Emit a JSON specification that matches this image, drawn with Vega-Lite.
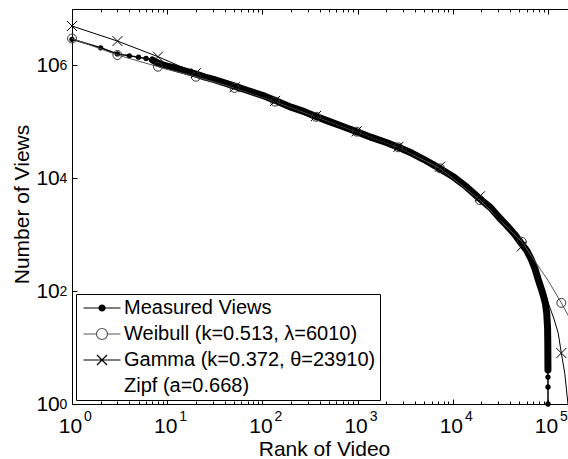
{
  "$schema": "https://vega.github.io/schema/vega-lite/v6.json",
  "width": 496,
  "height": 395,
  "autosize": {"type": "none"},
  "padding": {"left": 72, "top": 9, "right": 0, "bottom": 55},
  "background": "white",
  "view": {"stroke": null},
  "config": {
    "font": "Liberation Sans",
    "axis": {
      "grid": false,
      "domainColor": "black",
      "domainWidth": 1,
      "tickColor": "black",
      "tickWidth": 1,
      "labelColor": "black",
      "titleColor": "black",
      "labelFont": "Liberation Sans",
      "titleFont": "Liberation Sans",
      "labelFlush": false,
      "labelOverlap": false
    }
  },
  "datasets": {
    "measured": [
      {"rank": 1, "views": 2900000},
      {"rank": 2, "views": 2050000},
      {"rank": 3, "views": 1600000},
      {"rank": 4, "views": 1480000},
      {"rank": 5, "views": 1400000},
      {"rank": 6, "views": 1330000},
      {"rank": 7, "views": 1250000},
      {"rank": 8, "views": 1100000},
      {"rank": 9, "views": 1020000},
      {"rank": 10, "views": 970000},
      {"rank": 12, "views": 900000},
      {"rank": 15, "views": 810000},
      {"rank": 20, "views": 700000},
      {"rank": 25, "views": 620000},
      {"rank": 30, "views": 570000},
      {"rank": 40, "views": 490000},
      {"rank": 51, "views": 430000},
      {"rank": 70, "views": 360000},
      {"rank": 100, "views": 295000},
      {"rank": 136, "views": 240000},
      {"rank": 200, "views": 182000},
      {"rank": 280, "views": 150000},
      {"rank": 366, "views": 125000},
      {"rank": 500, "views": 102000},
      {"rank": 700, "views": 83000},
      {"rank": 977, "views": 67000},
      {"rank": 1400, "views": 53000},
      {"rank": 2000, "views": 43000},
      {"rank": 2680, "views": 35500},
      {"rank": 3700, "views": 28000},
      {"rank": 5000, "views": 21500},
      {"rank": 7240, "views": 15000},
      {"rank": 10000, "views": 10800},
      {"rank": 14000, "views": 7000},
      {"rank": 19000, "views": 4400},
      {"rank": 25000, "views": 3000},
      {"rank": 30000, "views": 2100},
      {"rank": 37000, "views": 1450},
      {"rank": 45000, "views": 1000},
      {"rank": 52500, "views": 700},
      {"rank": 60000, "views": 520},
      {"rank": 67000, "views": 360},
      {"rank": 73000, "views": 250},
      {"rank": 79000, "views": 160},
      {"rank": 85000, "views": 110},
      {"rank": 90000, "views": 80},
      {"rank": 94000, "views": 60},
      {"rank": 97000, "views": 40},
      {"rank": 99000, "views": 22},
      {"rank": 99500, "views": 12},
      {"rank": 99700, "views": 7},
      {"rank": 99800, "views": 5},
      {"rank": 99850, "views": 4},
      {"rank": 99900, "views": 3},
      {"rank": 99950, "views": 2},
      {"rank": 100000, "views": 1}
    ],
    "weibull_curve": [
      {"rank": 1, "views": 3000000},
      {"rank": 3, "views": 1530000},
      {"rank": 8, "views": 950000},
      {"rank": 20, "views": 630000},
      {"rank": 51, "views": 400000},
      {"rank": 136, "views": 228000},
      {"rank": 366, "views": 123000},
      {"rank": 977, "views": 67000},
      {"rank": 2680, "views": 35400},
      {"rank": 7340, "views": 15000},
      {"rank": 19300, "views": 4100},
      {"rank": 53000, "views": 750},
      {"rank": 100000, "views": 155},
      {"rank": 138000, "views": 62},
      {"rank": 166000, "views": 35}
    ],
    "weibull_markers": [
      {"rank": 1, "views": 3000000},
      {"rank": 3, "views": 1530000},
      {"rank": 8, "views": 950000},
      {"rank": 20, "views": 630000},
      {"rank": 51, "views": 400000},
      {"rank": 136, "views": 228000},
      {"rank": 366, "views": 123000},
      {"rank": 977, "views": 67000},
      {"rank": 2680, "views": 35400},
      {"rank": 7340, "views": 15000},
      {"rank": 19300, "views": 4100},
      {"rank": 53000, "views": 750},
      {"rank": 138000, "views": 62}
    ],
    "gamma_curve": [
      {"rank": 1, "views": 5000000},
      {"rank": 3, "views": 2700000},
      {"rank": 8, "views": 1430000},
      {"rank": 20, "views": 730000},
      {"rank": 51, "views": 410000},
      {"rank": 136, "views": 235000},
      {"rank": 366, "views": 127000},
      {"rank": 977, "views": 68000},
      {"rank": 2680, "views": 36000},
      {"rank": 7340, "views": 16000},
      {"rank": 19300, "views": 4800},
      {"rank": 53000, "views": 620},
      {"rank": 70000, "views": 300},
      {"rank": 86000, "views": 138},
      {"rank": 100000, "views": 63},
      {"rank": 115000, "views": 33},
      {"rank": 128000, "views": 18},
      {"rank": 138000, "views": 8},
      {"rank": 150000, "views": 3.5},
      {"rank": 162000, "views": 1.0},
      {"rank": 170000, "views": 0.5}
    ],
    "gamma_markers": [
      {"rank": 1, "views": 5000000},
      {"rank": 3, "views": 2700000},
      {"rank": 8, "views": 1430000},
      {"rank": 20, "views": 730000},
      {"rank": 51, "views": 410000},
      {"rank": 136, "views": 235000},
      {"rank": 366, "views": 127000},
      {"rank": 977, "views": 68000},
      {"rank": 2680, "views": 36000},
      {"rank": 7340, "views": 16000},
      {"rank": 19300, "views": 4800},
      {"rank": 53000, "views": 620},
      {"rank": 138000, "views": 8}
    ],
    "entries": [
      {"series": "Measured Views"},
      {"series": "Weibull (k=0.513, λ=6010)"},
      {"series": "Gamma (k=0.372, θ=23910)"},
      {"series": "Zipf (a=0.668)"}
    ]
  },
  "layer": [
    {
      "data": {"name": "measured"},
      "mark": {"type": "line", "color": "black", "strokeWidth": 1.5},
      "encoding": {
        "x": {
          "field": "rank", "type": "quantitative",
          "scale": {"type": "log", "domain": [1, 162200], "nice": false},
          "axis": {
            "orient": "bottom",
            "values": [1, 10, 100, 1000, 10000, 100000],
            "labelExpr": "'10'",
            "ticks": false,
            "domain": true,
            "labelFontSize": 21,
            "labelAlign": "center",
            "labelBaseline": "alphabetic",
            "labelPadding": 28,
            "labelOffset": -2,
            "title": "Rank of Video",
            "titleFontSize": 21,
            "titleFontWeight": "normal",
            "titleAlign": "center",
            "titleBaseline": "alphabetic",
            "titleX": 252,
            "titleY": 51.5
          }
        },
        "y": {
          "field": "views", "type": "quantitative",
          "scale": {"type": "log", "domain": [1, 10000000], "nice": false},
          "axis": {
            "orient": "left",
            "values": [1, 100, 10000, 1000000],
            "labelExpr": "'10'",
            "ticks": false,
            "domain": true,
            "labelFontSize": 21,
            "labelAlign": "right",
            "labelBaseline": "middle",
            "labelPadding": 12.7,
            "labelDy": 1.5,
            "title": "Number of Views",
            "titleFontSize": 21,
            "titleFontWeight": "normal",
            "titleAngle": -90,
            "titleAlign": "center",
            "titleBaseline": "alphabetic",
            "titleX": -43.5,
            "titleY": 195
          }
        }
      }
    },
    {
      "data": {"name": "measured"},
      "transform": [{"filter": "datum.rank >= 7 && datum.views >= 4"}],
      "mark": {"type": "line", "color": "black", "strokeWidth": 7, "strokeCap": "round", "strokeJoin": "round"},
      "encoding": {
        "x": {
          "field": "rank", "type": "quantitative",
          "scale": {"type": "log", "domain": [1, 162200], "nice": false},
          "axis": {
            "orient": "bottom",
            "values": [1, 10, 100, 1000, 10000, 100000],
            "labelExpr": "format(round(log(datum.value) / LN10), 'd')",
            "ticks": false,
            "domain": false,
            "labelFontSize": 14,
            "labelAlign": "center",
            "labelBaseline": "alphabetic",
            "labelPadding": 16,
            "labelOffset": 15.5,
            "title": null
          }
        },
        "y": {
          "field": "views", "type": "quantitative",
          "scale": {"type": "log", "domain": [1, 10000000], "nice": false},
          "axis": {
            "orient": "left",
            "values": [1, 100, 10000, 1000000],
            "labelExpr": "format(round(log(datum.value) / LN10), 'd')",
            "ticks": false,
            "domain": false,
            "labelFontSize": 14,
            "labelAlign": "right",
            "labelBaseline": "middle",
            "labelPadding": 5.3,
            "labelDy": -9,
            "title": null
          }
        }
      }
    },
    {
      "data": {"name": "measured"},
      "transform": [{"filter": "datum.rank <= 10 || datum.views <= 5"}],
      "mark": {"type": "point", "shape": "circle", "filled": true, "color": "black", "size": 28, "opacity": 1},
      "encoding": {
        "x": {
          "field": "rank", "type": "quantitative",
          "scale": {"type": "log", "domain": [1, 162200], "nice": false},
          "axis": {
            "orient": "bottom",
            "values": [1, 2, 3, 4, 5, 6, 7, 8, 9, 10, 20, 30, 40, 50, 60, 70, 80, 90, 100, 200, 300, 400, 500, 600, 700, 800, 900, 1000, 2000, 3000, 4000, 5000, 6000, 7000, 8000, 9000, 10000, 20000, 30000, 40000, 50000, 60000, 70000, 80000, 90000, 100000],
            "labels": false,
            "domain": false,
            "ticks": true,
            "tickSize": {"condition": {"test": "abs(log(datum.value) / LN10 - round(log(datum.value) / LN10)) < 0.001", "value": -5}, "value": -3},
            "title": null
          }
        },
        "y": {
          "field": "views", "type": "quantitative",
          "scale": {"type": "log", "domain": [1, 10000000], "nice": false},
          "axis": {
            "orient": "left",
            "values": [1, 100, 10000, 1000000],
            "labels": false,
            "domain": false,
            "ticks": true,
            "tickSize": -5,
            "title": null
          }
        }
      }
    },
    {
      "data": {"name": "weibull_curve"},
      "mark": {"type": "line", "color": "#555555", "strokeWidth": 1, "clip": true},
      "encoding": {
        "x": {
          "field": "rank", "type": "quantitative",
          "scale": {"type": "log", "domain": [1, 162200], "nice": false},
          "axis": {
            "orient": "top",
            "values": [1, 2, 3, 4, 5, 6, 7, 8, 9, 10, 20, 30, 40, 50, 60, 70, 80, 90, 100, 200, 300, 400, 500, 600, 700, 800, 900, 1000, 2000, 3000, 4000, 5000, 6000, 7000, 8000, 9000, 10000, 20000, 30000, 40000, 50000, 60000, 70000, 80000, 90000, 100000],
            "labels": false,
            "domain": true,
            "ticks": true,
            "tickSize": {"condition": {"test": "abs(log(datum.value) / LN10 - round(log(datum.value) / LN10)) < 0.001", "value": -5}, "value": -3},
            "title": null
          }
        },
        "y": {
          "field": "views", "type": "quantitative",
          "scale": {"type": "log", "domain": [1, 10000000], "nice": false},
          "axis": null
        }
      }
    },
    {
      "data": {"name": "gamma_curve"},
      "mark": {"type": "line", "color": "black", "strokeWidth": 1, "clip": true},
      "encoding": {
        "x": {"field": "rank", "type": "quantitative", "scale": {"type": "log", "domain": [1, 162200], "nice": false}, "axis": null},
        "y": {"field": "views", "type": "quantitative", "scale": {"type": "log", "domain": [1, 10000000], "nice": false}, "axis": null}
      }
    },
    {
      "data": {"name": "weibull_markers"},
      "mark": {"type": "point", "shape": "circle", "filled": false, "color": "#333333", "strokeWidth": 1, "size": 80, "opacity": 1},
      "encoding": {
        "x": {"field": "rank", "type": "quantitative", "scale": {"type": "log", "domain": [1, 162200], "nice": false}, "axis": null},
        "y": {"field": "views", "type": "quantitative", "scale": {"type": "log", "domain": [1, 10000000], "nice": false}, "axis": null}
      }
    },
    {
      "data": {"name": "gamma_markers"},
      "mark": {"type": "point", "shape": "M-1,-1L1,1M-1,1L1,-1", "filled": false, "color": "black", "strokeWidth": 1, "size": 100, "opacity": 1},
      "encoding": {
        "x": {"field": "rank", "type": "quantitative", "scale": {"type": "log", "domain": [1, 162200], "nice": false}, "axis": null},
        "y": {"field": "views", "type": "quantitative", "scale": {"type": "log", "domain": [1, 10000000], "nice": false}, "axis": null}
      }
    },
    {
      "data": {"name": "entries"},
      "mark": {"type": "point", "filled": false, "opacity": 0},
      "encoding": {
        "shape": {
          "field": "series", "type": "nominal",
          "scale": {
            "domain": ["Measured Views", "Weibull (k=0.513, λ=6010)", "Gamma (k=0.372, θ=23910)", "Zipf (a=0.668)"],
            "range": [
              "M-3.7,0L3.7,0M0.6,0A0.6,0.6,0,1,1,-0.6,0A0.6,0.6,0,1,1,0.6,0Z",
              "M-3.7,0L-1.1,0M1.1,0L3.7,0M1.1,0A1.1,1.1,0,1,1,-1.1,0A1.1,1.1,0,1,1,1.1,0Z",
              "M-3.7,0L3.7,0M-1,-1L1,1M-1,1L1,-1",
              "M-3.7,0L3.7,0"
            ]
          },
          "legend": {
            "title": null,
            "orient": "bottom-left",
            "offset": 4,
            "padding": 4,
            "strokeColor": "black",
            "fillColor": "white",
            "cornerRadius": 0,
            "symbolSize": 100,
            "symbolStrokeWidth": 1.2,
            "symbolOpacity": 1,
            "symbolOffset": 12,
            "labelFont": "Liberation Sans",
            "labelFontSize": 20,
            "labelColor": "black",
            "labelOffset": 12,
            "labelLimit": 400,
            "rowPadding": 6
          }
        },
        "fill": {
          "field": "series", "type": "nominal",
          "scale": {
            "domain": ["Measured Views", "Weibull (k=0.513, λ=6010)", "Gamma (k=0.372, θ=23910)", "Zipf (a=0.668)"],
            "range": ["black", "transparent", "transparent", "transparent"]
          }
        },
        "stroke": {
          "field": "series", "type": "nominal",
          "scale": {
            "domain": ["Measured Views", "Weibull (k=0.513, λ=6010)", "Gamma (k=0.372, θ=23910)", "Zipf (a=0.668)"],
            "range": ["black", "#555555", "black", "transparent"]
          }
        }
      }
    }
  ],
  "resolve": {
    "scale": {"x": "shared", "y": "shared"},
    "axis": {"x": "independent", "y": "independent"}
  }
}
